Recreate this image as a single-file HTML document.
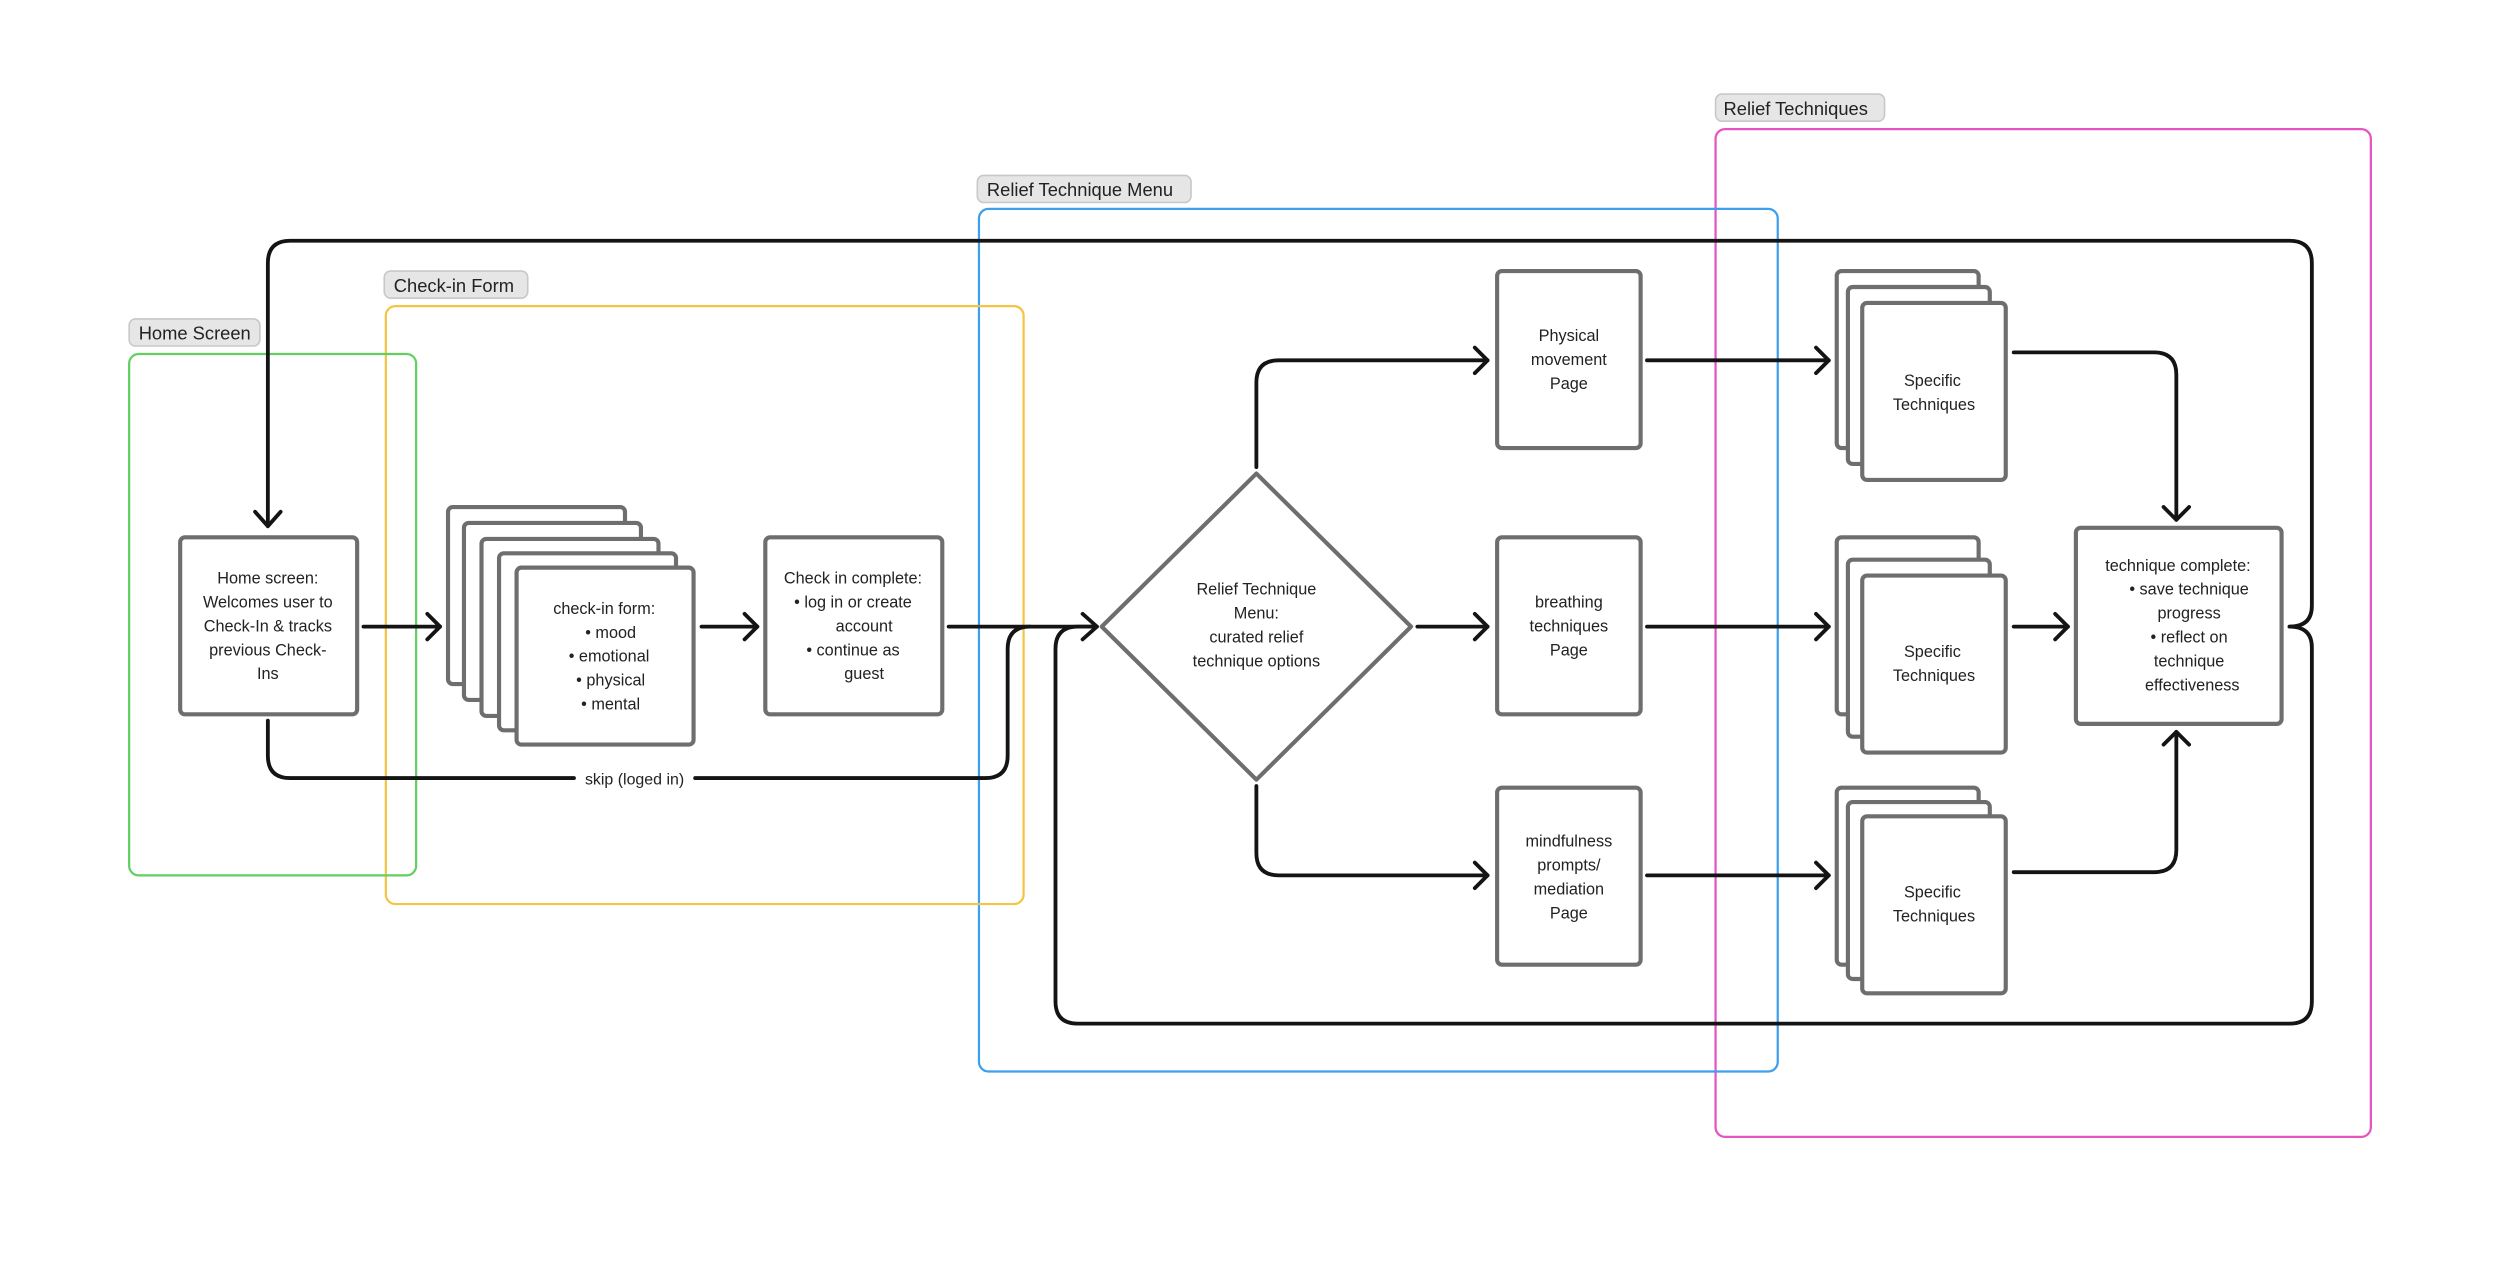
<!DOCTYPE html>
<html><head><meta charset="utf-8">
<style>
html,body{margin:0;padding:0;background:#fff;width:2500px;height:1266px;overflow:hidden}
svg{display:block}
text{font-family:"Liberation Sans",sans-serif;fill:#222}
.n{fill:#fff;stroke:#6e6e6e;stroke-width:2.6}
.c{fill:none;stroke:#141414;stroke-width:2.4;stroke-linecap:round;stroke-linejoin:round}
.t{font-size:10.2px;text-anchor:middle}
.lbl{font-size:11.5px}
.pill{fill:#e6e6e6;stroke:#c8c8c8;stroke-width:1}
</style></head><body>
<svg width="2500" height="1266" viewBox="0 0 1568 794" preserveAspectRatio="none" xmlns="http://www.w3.org/2000/svg">
<!-- groups -->
<rect x="1076" y="81" width="411" height="632" rx="6" fill="none" stroke="#e455bf" stroke-width="1.4"/>
<rect x="1076" y="59" width="106" height="17" rx="4" class="pill"/><text x="1081" y="72" class="lbl">Relief Techniques</text>
<rect x="614" y="131" width="501" height="541" rx="6" fill="none" stroke="#3d9fee" stroke-width="1.4"/>
<rect x="613" y="110" width="134" height="17" rx="4" class="pill"/><text x="619" y="123" class="lbl">Relief Technique Menu</text>
<rect x="242" y="192" width="400" height="375" rx="6" fill="none" stroke="#f4c443" stroke-width="1.4"/>
<rect x="241" y="170" width="90" height="17" rx="4" class="pill"/><text x="247" y="183" class="lbl">Check-in Form</text>
<rect x="81" y="222" width="180" height="327" rx="6" fill="none" stroke="#62cf62" stroke-width="1.4"/>
<rect x="81" y="200" width="82" height="17" rx="4" class="pill"/><text x="87" y="213" class="lbl">Home Screen</text>

<!-- connectors -->
<g class="c">
<path d="M1436,393 Q1450,393 1450,380 L1450,165 Q1450,151 1436,151 L182,151 Q168,151 168,165 L168,330"/>
<path d="M160,321 L168,330 L176,321"/>
<path d="M1436,393 Q1450,393 1450,406 L1450,628 Q1450,642 1436,642 L676,642 Q662,642 662,628 L662,407 Q662,393 676,393 L688,393"/>
<path d="M679,385 L688,393 L679,401"/>
<path d="M228,393 L276,393"/><path d="M268,385 L276,393 L268,401"/>
<path d="M440,393 L475,393"/><path d="M467,385 L475,393 L467,401"/>
<path d="M595,393 L686,393"/>
<path d="M168,452 L168,474 Q168,488 182,488 L360,488"/>
<path d="M436,488 L618,488 Q632,488 632,474 L632,407 Q632,393 646,393"/>
<path d="M788,293 L788,240 Q788,226 802,226 L933,226"/><path d="M925,218 L933,226 L925,234"/>
<path d="M889,393 L933,393"/><path d="M925,385 L933,393 L925,401"/>
<path d="M788,493 L788,535 Q788,549 802,549 L933,549"/><path d="M925,541 L933,549 L925,557"/>
<path d="M1033,226 L1147,226"/><path d="M1139,218 L1147,226 L1139,234"/>
<path d="M1033,393 L1147,393"/><path d="M1139,385 L1147,393 L1139,401"/>
<path d="M1033,549 L1147,549"/><path d="M1139,541 L1147,549 L1139,557"/>
<path d="M1263,221 L1351,221 Q1365,221 1365,235 L1365,326"/><path d="M1357,318 L1365,326 L1373,318"/>
<path d="M1263,393 L1297,393"/><path d="M1289,385 L1297,393 L1289,401"/>
<path d="M1263,547 L1351,547 Q1365,547 1365,533 L1365,459"/><path d="M1357,467 L1365,459 L1373,467"/>
</g>
<text x="398" y="492" class="t" style="font-size:10px">skip (loged in)</text>

<!-- home -->
<rect x="113" y="337" width="111" height="111" rx="3" class="n"/>
<text class="t"><tspan x="168" y="366">Home screen:</tspan><tspan x="168" y="381">Welcomes user to</tspan><tspan x="168" y="396">Check-In &amp; tracks</tspan><tspan x="168" y="411">previous Check-</tspan><tspan x="168" y="426">Ins</tspan></text>

<!-- check-in stack -->
<rect x="281" y="318" width="111" height="111" rx="3" class="n"/>
<rect x="291" y="328" width="111" height="111" rx="3" class="n"/>
<rect x="302" y="338" width="111" height="111" rx="3" class="n"/>
<rect x="313" y="347" width="111" height="111" rx="3" class="n"/>
<rect x="324" y="356" width="111" height="111" rx="3" class="n"/>
<text class="t"><tspan x="379" y="385">check-in form:</tspan><tspan x="383" y="400">•  mood</tspan><tspan x="382" y="415">•  emotional</tspan><tspan x="383" y="430">•  physical</tspan><tspan x="383" y="445">•  mental</tspan></text>

<!-- check complete -->
<rect x="480" y="337" width="111" height="111" rx="3" class="n"/>
<text class="t"><tspan x="535" y="366">Check in complete:</tspan><tspan x="535" y="381">•  log in or create</tspan><tspan x="542" y="396">account</tspan><tspan x="535" y="411">•  continue as</tspan><tspan x="542" y="426">guest</tspan></text>

<!-- diamond -->
<path d="M788,297 L885,393 L788,489 L691,393 Z" class="n" stroke-linejoin="round"/>
<text class="t"><tspan x="788" y="373">Relief Technique</tspan><tspan x="788" y="388">Menu:</tspan><tspan x="788" y="403">curated relief</tspan><tspan x="788" y="418">technique options</tspan></text>

<!-- pages -->
<rect x="939" y="170" width="90" height="111" rx="3" class="n"/>
<text class="t"><tspan x="984" y="214">Physical</tspan><tspan x="984" y="229">movement</tspan><tspan x="984" y="244">Page</tspan></text>
<rect x="939" y="337" width="90" height="111" rx="3" class="n"/>
<text class="t"><tspan x="984" y="381">breathing</tspan><tspan x="984" y="396">techniques</tspan><tspan x="984" y="411">Page</tspan></text>
<rect x="939" y="494" width="90" height="111" rx="3" class="n"/>
<text class="t"><tspan x="984" y="531">mindfulness</tspan><tspan x="984" y="546">prompts/</tspan><tspan x="984" y="561">mediation</tspan><tspan x="984" y="576">Page</tspan></text>

<!-- specific stacks -->
<rect x="1152" y="170" width="89" height="111" rx="3" class="n"/>
<rect x="1159" y="180" width="89" height="111" rx="3" class="n"/>
<rect x="1168" y="190" width="90" height="111" rx="3" class="n"/>
<text class="t"><tspan x="1212" y="242">Specific</tspan><tspan x="1213" y="257">Techniques</tspan></text>
<rect x="1152" y="337" width="89" height="111" rx="3" class="n"/>
<rect x="1159" y="351" width="89" height="111" rx="3" class="n"/>
<rect x="1168" y="361" width="90" height="111" rx="3" class="n"/>
<text class="t"><tspan x="1212" y="412">Specific</tspan><tspan x="1213" y="427">Techniques</tspan></text>
<rect x="1152" y="494" width="89" height="111" rx="3" class="n"/>
<rect x="1159" y="503" width="89" height="111" rx="3" class="n"/>
<rect x="1168" y="512" width="90" height="111" rx="3" class="n"/>
<text class="t"><tspan x="1212" y="563">Specific</tspan><tspan x="1213" y="578">Techniques</tspan></text>

<!-- technique complete -->
<rect x="1302" y="331" width="129" height="123" rx="3" class="n"/>
<text class="t"><tspan x="1366" y="358">technique complete:</tspan><tspan x="1373" y="373">•  save technique</tspan><tspan x="1373" y="388">progress</tspan><tspan x="1373" y="403">•  reflect on</tspan><tspan x="1373" y="418">technique</tspan><tspan x="1375" y="433">effectiveness</tspan></text>
</svg>
</body></html>
